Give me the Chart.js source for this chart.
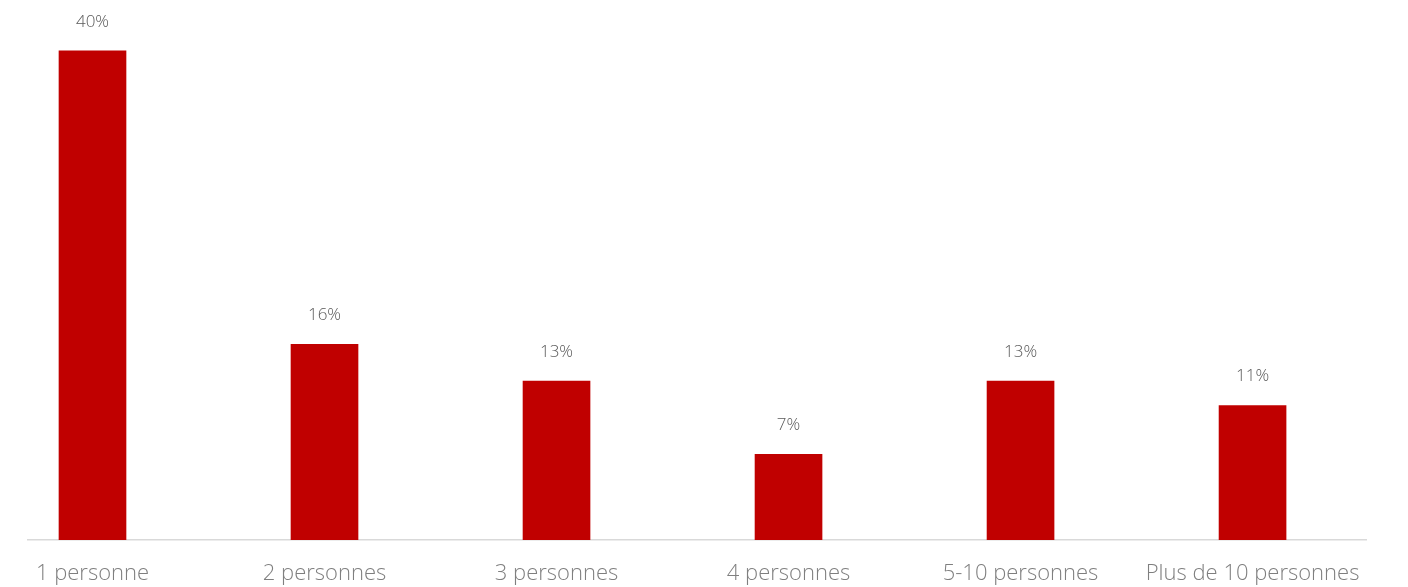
<!DOCTYPE html>
<html>
<head>
<meta charset="utf-8">
<script src="https://cdn.jsdelivr.net/npm/chart.js@4/dist/chart.umd.min.js"></script>
<style>
  html, body { margin: 0; padding: 0; background: #fff; }
  #wrap { width: 1408px; height: 587px; position: relative; }
</style>
</head>
<body>
<div id="wrap"><canvas id="chart"></canvas></div>
<script>
const categories = ['1 personne', '2 personnes', '3 personnes', '4 personnes', '5-10 personnes', 'Plus de 10 personnes'];
const values = [40, 16, 13, 7, 13, 11];

// percentage labels above each bar
const valueLabels = {
    id: 'valueLabels',
    afterDatasetsDraw(chart) {
        const ctx = chart.ctx;
        const meta = chart.getDatasetMeta(0);
        ctx.save();
        ctx.font = '300 17px "Open Sans"';
        ctx.fillStyle = '#595959';
        ctx.textAlign = 'center';
        ctx.textBaseline = 'middle';
        meta.data.forEach((bar, i) => {
            ctx.fillText(values[i] + '%', bar.x, bar.y - 29);
        });
        ctx.restore();
    }
};

new Chart(document.getElementById('chart').getContext('2d'), {
    type: 'bar',
    data: {
        datasets: [{
            data: values.map((v, i) => ({ x: i, y: v })),
            backgroundColor: '#c00000',
            barThickness: 67
        }]
    },
    options: {
        responsive: true, maintainAspectRatio: false, animation: false,
        layout: { padding: { left: 28, right: 42, top: 2, bottom: 0 } },
        plugins: { legend: { display: false }, tooltip: { enabled: false } },
        scales: {
            x: {
                type: 'linear',
                offset: false,
                min: -0.278, max: 5.489,
                grid: { display: false, drawTicks: false },
                border: { display: true, color: '#d9d9d9', width: 1.5 },
                afterBuildTicks: scale => {
                    scale.ticks = categories.map((c, i) => ({ value: i }));
                },
                afterFit: scale => { scale.height = 47; },
                ticks: {
                    autoSkip: false, maxRotation: 0, padding: 21,
                    color: '#7f7f7f',
                    font: { family: '"Open Sans"', size: 22, weight: 300 },
                    callback: v => categories[v]
                }
            },
            y: {
                display: false,
                min: 0, max: 44
            }
        }
    },
    plugins: [valueLabels]
});
</script>
</body>
</html>
